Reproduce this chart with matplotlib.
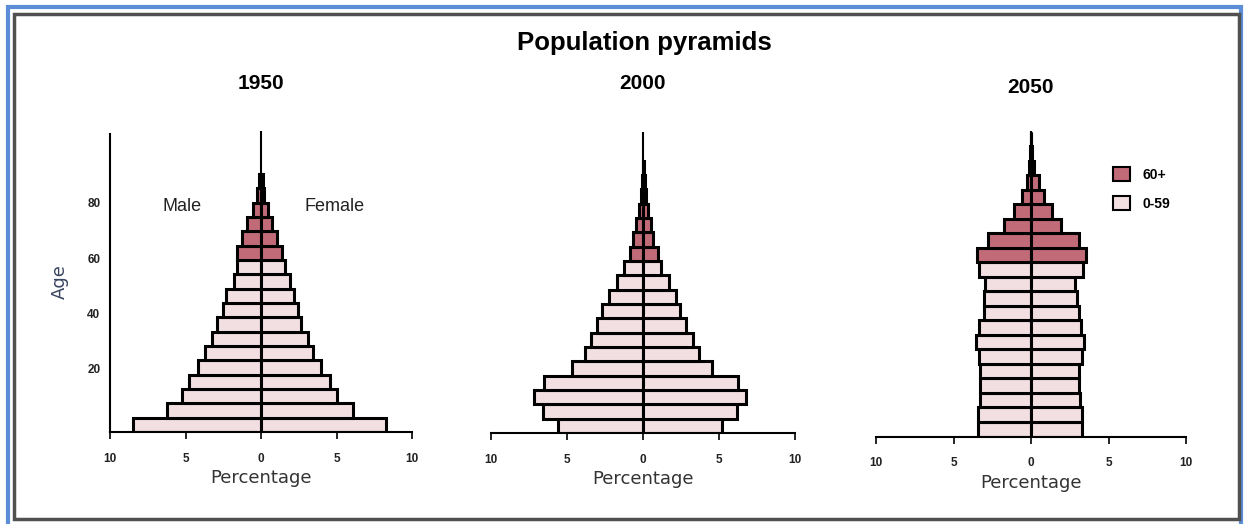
import numpy as np
import matplotlib.pyplot as plt
from matplotlib.patches import Rectangle

# population share (%) per 5-year age group, 0-4 ... 100+
years = ['1950', '2000', '2050']
male = {
    '1950': [8.47, 6.24, 5.24, 4.76, 4.14, 3.69, 3.27, 2.94, 2.54, 2.32, 1.81, 1.59,
             1.59, 1.26, 0.93, 0.55, 0.27, 0.10, 0, 0, 0],
    '2000': [5.56, 6.56, 7.15, 6.49, 4.68, 3.84, 3.40, 3.02, 2.69, 2.25, 1.74, 1.24,
             0.86, 0.66, 0.49, 0.26, 0.15, 0.08, 0.03, 0, 0],
    '2050': [3.44, 3.44, 3.27, 3.27, 3.31, 3.33, 3.55, 3.33, 3.05, 3.01, 2.95, 3.33,
             3.48, 2.77, 1.72, 1.08, 0.56, 0.26, 0.10, 0.05, 0.02],
}
female = {
    '1950': [8.30, 6.08, 5.04, 4.54, 3.96, 3.47, 3.10, 2.68, 2.46, 2.17, 1.90, 1.57,
             1.39, 1.04, 0.71, 0.49, 0.22, 0.10, 0, 0, 0],
    '2000': [5.19, 6.18, 6.80, 6.27, 4.55, 3.71, 3.27, 2.83, 2.45, 2.16, 1.68, 1.17,
             0.97, 0.68, 0.55, 0.31, 0.20, 0.10, 0.05, 0, 0],
    '2050': [3.29, 3.29, 3.18, 3.08, 3.08, 3.29, 3.40, 3.23, 3.08, 2.97, 2.86, 3.35,
             3.57, 3.08, 1.96, 1.38, 0.84, 0.49, 0.20, 0.08, 0.03],
}
age_start = np.arange(0, 105, 5)
age_ticks = [20, 40, 60, 80]
x_ticks = [-10, -5, 0, 5, 10]
x_labels = ['10', '5', '0', '5', '10']

old_col = '#c26b78'
young_col = '#f2dfe2'

narrow = ['Liberation Sans Narrow', 'Liberation Sans', 'DejaVu Sans']
W, H = 1245, 524
fig = plt.figure(figsize=(W / 100, H / 100), dpi=100)

# frame around the picture
fig.patches.append(Rectangle((8 / W, -0.05), 1233 / W, 1 - 7 / H + 0.05, transform=fig.transFigure,
                             fill=False, edgecolor='#5b8ed6', linewidth=3))
fig.patches.append(Rectangle((14 / W, 5 / H), 1225 / W, 1 - 19 / H, transform=fig.transFigure,
                             fill=False, edgecolor='#505050', linewidth=2.5))

# axes boxes in pixels: left, right, bottom, top
boxes = {'1950': (110, 412, 432, 131), '2000': (491, 795, 433, 132), '2050': (876, 1186, 436.5, 131.5)}
title_pad = {'1950': 30, '2000': 31, '2050': 28}

for yr in years:
    l, r, b, t = boxes[yr]
    ax = fig.add_axes([l / W, 1 - b / H, (r - l) / W, (b - t) / H])
    m = np.array(male[yr])
    f = np.array(female[yr])
    k = np.arange(len(m))
    cols = np.array([old_col if a >= 60 else young_col for a in age_start])
    keep = m > 0
    ax.barh(k[keep], -m[keep], height=1, align='edge', color=cols[keep],
            edgecolor='black', linewidth=2.2)
    keep = f > 0
    ax.barh(k[keep], f[keep], height=1, align='edge', color=cols[keep],
            edgecolor='black', linewidth=2.2)
    ax.axvline(0, color='black', linewidth=1.5, zorder=0)
    ax.set_xlim(-10, 10)
    ax.set_ylim(0, 21)
    for s in ['top', 'right', 'left']:
        ax.spines[s].set_visible(False)
    ax.spines['bottom'].set_linewidth(1.5)
    ax.set_xticks(x_ticks)
    ax.set_xticklabels(x_labels, family=narrow, fontsize=8.5, fontweight='bold', color='#222222')
    ax.tick_params(axis='x', length=5, width=1.2, pad=10)
    ax.set_xlabel('Percentage', fontsize=13, color='#333333', labelpad=3)
    ax.set_title(yr, family=narrow, fontsize=15, fontweight='bold', pad=title_pad[yr])
    if yr == '1950':
        ax.spines['left'].set_visible(True)
        ax.spines['left'].set_linewidth(1.5)
        ax.spines['left'].set_bounds(0, 20.8)
        ax.set_yticks([a / 5.2 + 0.6 for a in age_ticks])
        ax.set_yticklabels([str(a) for a in age_ticks], family=narrow, fontsize=8.5,
                           fontweight='bold', color='#222222')
        ax.tick_params(axis='y', length=0, pad=7)
        ax.set_ylabel('Age', fontsize=13, color='#3a4560', labelpad=13)
        ax.text(-5.2, 15.75, 'Male', family=narrow, fontsize=13, ha='center', va='center', color='#222222')
        ax.text(4.9, 15.75, 'Female', family=narrow, fontsize=13, ha='center', va='center', color='#222222')
    else:
        ax.set_yticks([])
    if yr == '2050':
        ax.legend(handles=[Rectangle((0, 0), 1, 1, facecolor=old_col, edgecolor='black', linewidth=1.5),
                           Rectangle((0, 0), 1, 1, facecolor=young_col, edgecolor='black', linewidth=1.5)],
                  labels=['60+', '0-59'], loc='upper left', bbox_to_anchor=(0.725, 0.925),
                  frameon=False, handlelength=1.2, handleheight=1.2, handletextpad=0.9,
                  labelspacing=1.05, prop={'family': narrow, 'size': 10, 'weight': 'bold'})

fig.text(644 / W, 1 - 43 / H, 'Population pyramids', family=narrow, fontsize=18.5,
         fontweight='bold', ha='center', va='center')

fig.savefig('out.png', dpi=100)
